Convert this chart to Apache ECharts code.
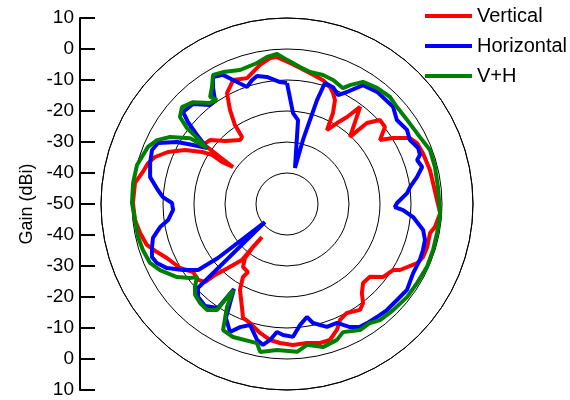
<!DOCTYPE html>
<html>
<head>
<meta charset="utf-8">
<script src="https://cdn.jsdelivr.net/npm/echarts@6/dist/echarts.min.js"></script>
<style>
html,body{margin:0;padding:0;background:#fff;}
#chart{width:570px;height:400px;}
</style>
</head>
<body>
<div id="chart"></div>
<script>
// Radial scale (dBi): centre = -50, outer ring = +10
const radiusTicks = [-50, -40, -30, -20, -10, 0, 10];
const seriesNames = ['Vertical', 'Horizontal', 'V+H'];

// Vertical (red): angle in degrees clockwise from top, gain in dBi
const verticalAngle = [
  356.1, 1.2, 5.5, 11.4, 16.2, 20.2, 22.5, 24.8, 26.8, 28.4,
  31.7, 34.6, 37.0, 43.2, 44.6, 47.9, 51.8, 55.5, 58.1, 61.8,
  64.9, 69.4, 76.6, 81.8, 88.5, 93.4, 98.8, 101.5, 107.1, 111.3,
  114.4, 120.3, 121.9, 127.3, 131.3, 136.1, 139.9, 142.5, 145.4, 151.2,
  155.4, 158.4, 162.5, 166.6, 171.8, 177.6, 182.9, 187.1, 191.8, 197.3,
  201.1, 203.6, 208.7, 211.1, 209.8, 214.9, 217.9, 218.3, 217.1, 218.5,
  218.8, 222.7, 225.4, 226.4, 229.5, 234.1, 239.1, 245.8, 249.7, 253.7,
  258.8, 264.0, 270.4, 277.9, 282.1, 286.4, 289.6, 293.6, 297.9, 301.5,
  303.2, 302.9, 304.4, 305.0, 305.5, 305.1, 309.7, 315.5, 323.7, 326.1,
  326.6, 328.8, 331.6, 334.0, 336.5, 342.4, 345.0, 349.0, 353.4
];
const verticalGain = [
  -2.5, -4.5, -5.9, -7.5, -8.4, -9.8, -11.2, -13.1, -17.1, -22.9,
  -19.3, -15.9, -10.8, -20.3, -13.3, -9.6, -9.8, -13.6, -9.7, -5.0,
  -3.7, -3.2, -2.6, -2.4, -1.6, -0.5, -1.7, -2.9, -2.7, -2.9,
  -3.9, -7.8, -9.7, -11.1, -14.4, -14.6, -12.5, -9.7, -8.5, -9.9,
  -8.9, -6.3, -4.0, -3.9, -4.7, -4.5, -5.1, -5.8, -7.5, -9.8,
  -10.6, -13.7, -18.4, -22.5, -24.7, -25.2, -27.9, -32.3, -36.6, -31.9,
  -26.8, -21.9, -17.4, -13.5, -12.3, -12.6, -9.8, -7.5, -5.3, -2.9,
  -1.7, -0.7, -0.3, -0.5, -2.2, -3.3, -4.8, -8.1, -12.8, -17.9,
  -21.1, -25.0, -28.9, -23.6, -18.3, -16.9, -17.7, -21.5, -24.4, -24.0,
  -19.5, -14.5, -9.3, -8.0, -6.4, -7.4, -6.3, -4.3, -2.6
];

// Horizontal (blue)
const horizontalAngle = [
  0, 3.8, 7.5, 12.5, 14.0, 16.1, 17.4, 21.5, 25.1, 28.2,
  32.6, 38.8, 47.5, 52.6, 58.3, 62.5, 66.9, 69.8, 71.3, 74.7,
  78.3, 82.1, 84.8, 89.5, 91.6, 93.0, 95.9, 100.8, 104.6, 108.7,
  112.8, 118.7, 125.6, 131.1, 136.7, 141.5, 146.1, 149.3, 152.9, 157.2,
  162.0, 167.7, 170.0, 173.9, 177.4, 181.7, 184.5, 187.1, 189.7, 192.4,
  197.0, 200.9, 204.0, 208.2, 212.0, 213.6, 218.8, 223.7, 226.7, 230.7,
  232.0, 233.4, 237.6, 241.9, 245.6, 248.6, 252.0, 255.8, 259.7, 262.3,
  267.0, 270.5, 273.2, 276.2, 281.1, 286.7, 291.8, 295.3, 299.4, 302.1,
  305.0, 307.5, 309.6, 311.5, 316.8, 322.1, 325.3, 327.5, 329.8, 333.6,
  336.5, 341.1, 344.2, 346.8, 351.0, 356.7
];
const horizontalGain = [
  -11.0, -20.6, -22.7, -38.1, -28.7, -15.1, -9.1, -9.5, -11.2, -9.0,
  -4.5, -3.6, -3.6, -5.4, -4.5, -5.3, -4.0, -4.3, -5.7, -4.8,
  -7.2, -9.9, -11.1, -14.5, -15.2, -12.5, -9.1, -5.3, -4.0, -3.7,
  -3.5, -3.6, -2.4, -2.9, -3.0, -3.4, -3.7, -3.9, -5.4, -8.4,
  -8.3, -10.7, -13.0, -10.7, -7.1, -7.7, -8.6, -5.8, -3.9, -5.1,
  -9.2, -7.5, -4.8, -8.3, -17.7, -9.7, -7.8, -8.5, -10.5, -40.8,
  -21.7, -14.3, -10.3, -6.1, -3.9, -3.2, -4.2, -5.4, -8.4, -11.3,
  -13.2, -12.9, -9.9, -8.1, -5.0, -3.9, -3.1, -4.0, -9.3, -14.2,
  -18.5, -13.4, -8.5, -5.2, -5.7, -9.5, -9.2, -5.6, -2.6, -3.5,
  -6.4, -10.1, -8.5, -7.6, -8.5, -10.6
];

// V+H (green)
const combinedAngle = [
  0, 5.4, 9.9, 15.6, 20.4, 25.8, 27.9, 31.9, 37.8, 43.9,
  48.6, 55.0, 63.3, 69.3, 76.0, 83.6, 93.4, 100.9, 107.5, 114.2,
  121.3, 127.8, 135.0, 141.3, 145.1, 149.9, 156.4, 159.8, 165.9, 171.9,
  176.1, 183.9, 190.3, 192.2, 202.1, 206.9, 210.2, 212.1, 213.4, 217.0,
  221.3, 225.3, 228.0, 230.9, 232.7, 236.4, 242.5, 246.7, 252.3, 257.5,
  264.0, 270.4, 277.8, 284.6, 292.3, 296.2, 299.8, 304.2, 305.0, 306.3,
  307.2, 309.1, 312.7, 317.3, 322.7, 326.1, 324.3, 327.3, 330.2, 334.1,
  340.7, 348.0, 352.3, 356.2
];
const combinedGain = [
  -3.5, -5.6, -6.8, -6.8, -7.3, -8.5, -6.6, -3.6, -2.6, -2.1,
  -2.7, -2.7, -2.0, -0.7, -0.8, -1.0, -0.5, -0.7, -0.6, -0.5,
  -0.9, -1.0, -1.6, -2.0, -3.2, -3.0, -4.9, -3.3, -2.4, -4.1,
  -2.2, -2.8, -1.5, -4.1, -3.7, -4.4, -11.5, -17.3, -9.0, -7.2,
  -7.5, -8.3, -10.0, -12.6, -10.6, -7.4, -3.8, -1.9, -1.2, -0.8,
  -0.7, 0.0, 0.1, 0.0, -1.5, -3.3, -6.5, -12.2, -18.5, -14.0,
  -9.5, -5.5, -3.9, -5.3, -9.0, -9.5, -7.5, -5.2, -2.0, -2.7,
  -4.2, -3.5, -2.1, -1.5
];

function closedLoop(angles, gains) {
  const pts = angles.map((a, i) => [gains[i], a]);
  pts.push(pts[0].slice());
  return pts;
}

const rMin = radiusTicks[0];
const rMax = radiusTicks[radiusTicks.length - 1];
const step = radiusTicks[1] - radiusTicks[0];

const chart = echarts.init(document.getElementById('chart'), null, {renderer: 'canvas'});
const font = 'Liberation Sans, Arial, Helvetica, sans-serif';

chart.setOption({
  animation: false,
  backgroundColor: '#fff',
  textStyle: {fontFamily: font, color: '#000'},
  legend: {
    orient: 'vertical',
    left: 425,
    top: 5,
    padding: 0,
    itemWidth: 47,
    itemHeight: 4,
    itemGap: 8,
    icon: 'rect',
    textStyle: {fontSize: 20, color: '#000', fontFamily: font, lineHeight: 22},
    data: seriesNames
  },
  polar: {center: [287, 204], radius: 186},
  angleAxis: {
    type: 'value', min: 0, max: 360, startAngle: 90, clockwise: true,
    axisLine: {show: true, lineStyle: {color: '#000', width: 1}},
    axisTick: {show: false}, axisLabel: {show: false}, splitLine: {show: false}
  },
  radiusAxis: {
    type: 'value', min: rMin, max: rMax, interval: step,
    axisLine: {show: false}, axisTick: {show: false}, axisLabel: {show: false},
    splitLine: {show: true, lineStyle: {color: '#000', width: 1}}
  },
  grid: {left: 80, top: 18, bottom: 10, width: 10},
  xAxis: {type: 'value', show: false},
  yAxis: {
    type: 'value', min: rMin - rMax, max: rMax - rMin, interval: step,
    name: 'Gain (dBi)', nameLocation: 'middle', nameGap: 44, nameRotate: 90,
    nameTextStyle: {fontSize: 18, color: '#000', fontFamily: font},
    axisLine: {show: true, lineStyle: {color: '#000', width: 2}},
    axisTick: {show: true, inside: true, length: 15, lineStyle: {color: '#000', width: 2}},
    axisLabel: {
      fontSize: 19, color: '#000', margin: 6, fontFamily: font,
      formatter: v => String(Math.abs(v) + rMin)
    },
    splitLine: {show: false}
  },
  series: [
    {name: seriesNames[0], type: 'line', coordinateSystem: 'polar', showSymbol: false,
     color: '#ff0000', lineStyle: {width: 4, color: '#ff0000'}, data: closedLoop(verticalAngle, verticalGain)},
    {name: seriesNames[1], type: 'line', coordinateSystem: 'polar', showSymbol: false,
     color: '#0000ff', lineStyle: {width: 4, color: '#0000ff'}, data: closedLoop(horizontalAngle, horizontalGain)},
    {name: seriesNames[2], type: 'line', coordinateSystem: 'polar', showSymbol: false,
     color: '#008000', lineStyle: {width: 4, color: '#008000'}, data: closedLoop(combinedAngle, combinedGain)}
  ]
});
</script>
</body>
</html>
